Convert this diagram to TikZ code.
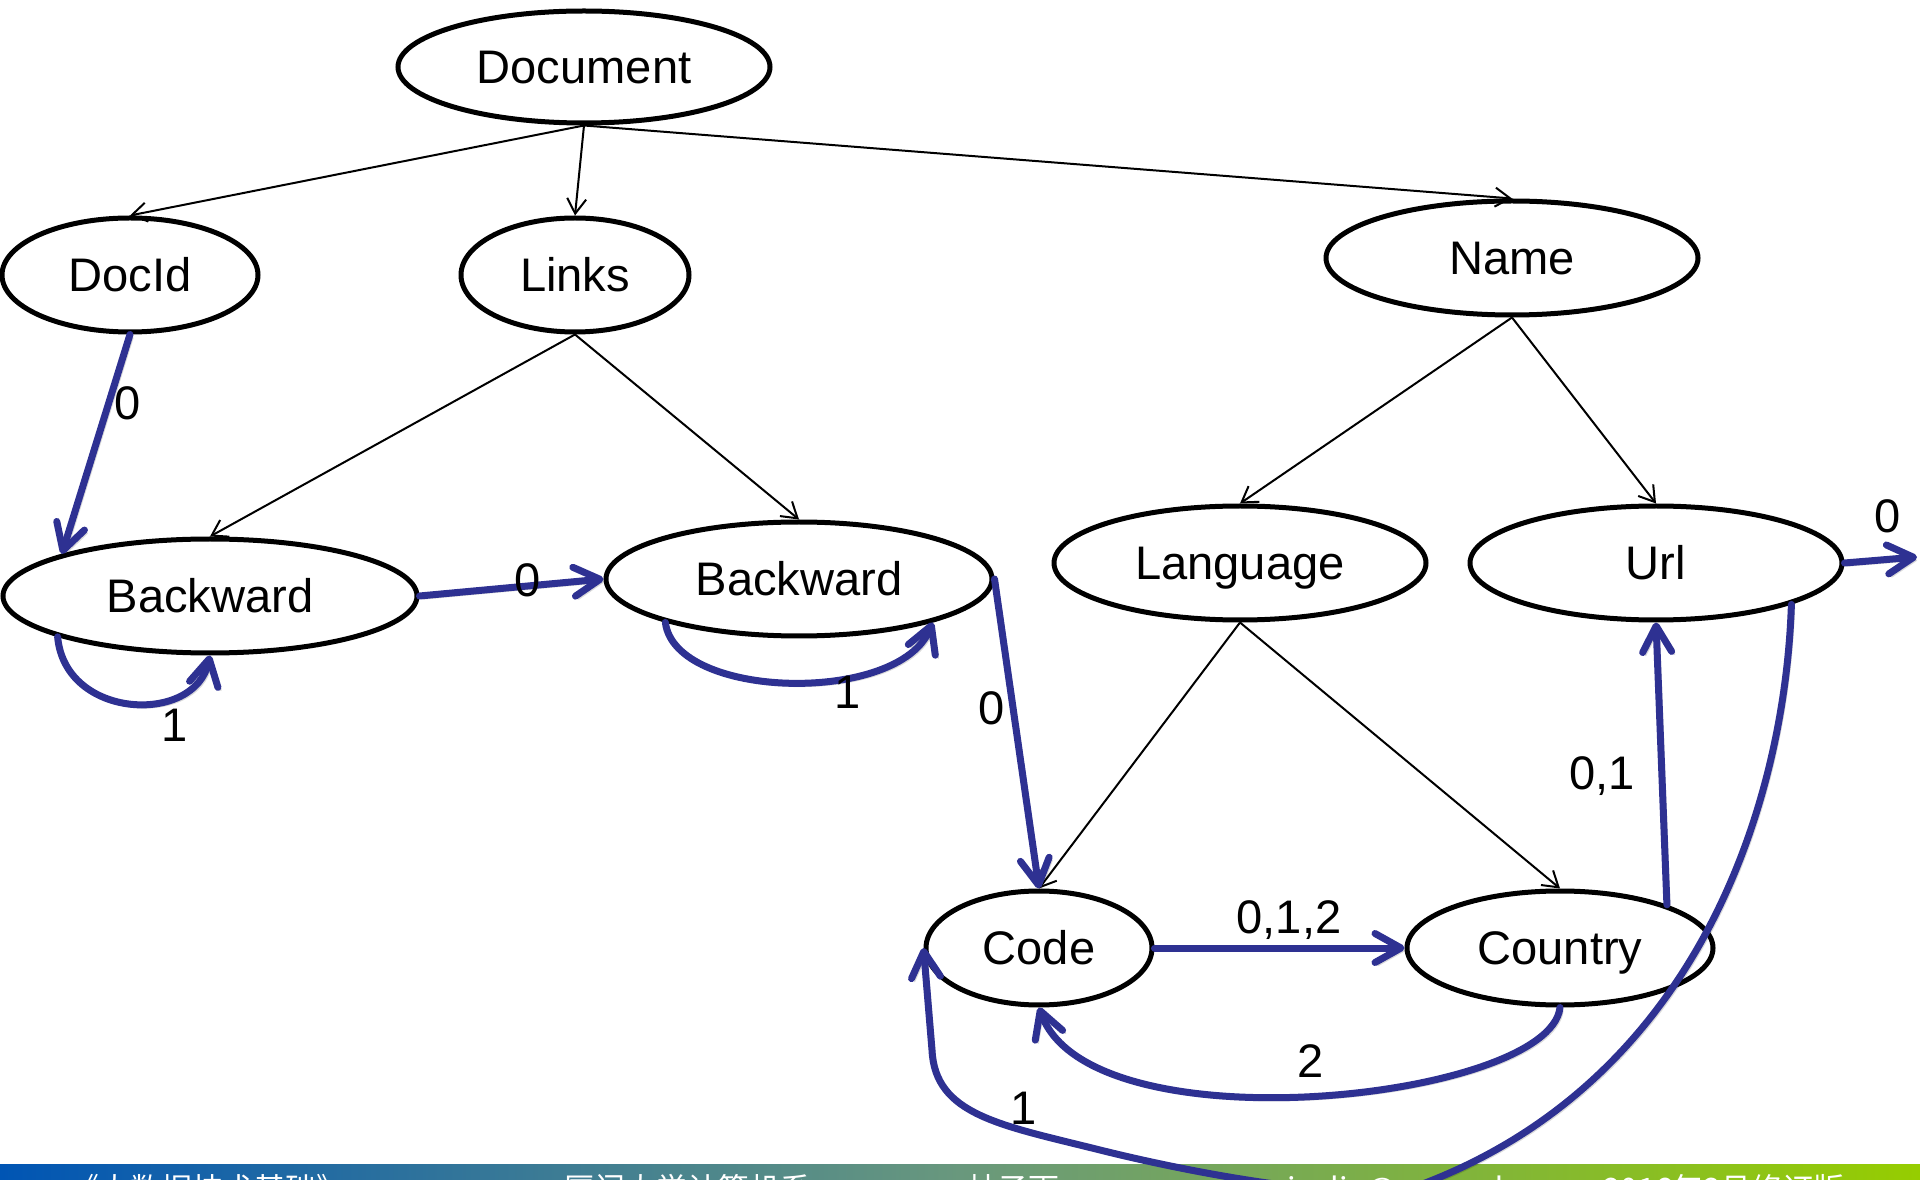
\documentclass[tikz,border=0pt]{standalone}
\usepackage{fontspec}
\setmainfont{Liberation Sans}
\newfontfamily\cjkfont{Noto Sans CJK SC}
\usetikzlibrary{shapes.geometric,arrows.meta}
\definecolor{edgeblue}{RGB}{46,49,146}
\definecolor{footA}{RGB}{0,85,180}
\definecolor{footB}{RGB}{105,152,125}
\definecolor{footC}{RGB}{150,205,0}
\begin{document}
\begin{tikzpicture}[x=0.1mm,y=-0.1mm,
  state/.style={ellipse, draw=black, line width=0.5mm, inner sep=0pt,
    text height=9.6pt, text depth=0pt, font=\fontsize{13.4pt}{16pt}\selectfont},
  tree/.style={draw=black, line width=0.2mm, -{Straight Barb[length=1.5mm,width=1.9mm]}},
  trans/.style={draw=edgeblue, line width=0.7mm, line cap=round, line join=round,
    -{Straight Barb[length=2.6mm,width=2.9mm,round]},
    preaction={draw=black, opacity=0.15, transform canvas={shift={(0.3mm,-0.3mm)}}}},
  lbl/.style={font=\fontsize{13.4pt}{16pt}\selectfont, inner sep=0pt, text height=9.6pt, text depth=0pt},
  foot/.style={text=white, font=\cjkfont\fontsize{8.8pt}{10pt}\selectfont, inner sep=0pt, anchor=base west}
]
\useasboundingbox (0,0) rectangle (1920,1180);
\clip (0,0) rectangle (1920,1180);

% footer bar
\shade[left color=footA, right color=footC, middle color=footB] (0,1164) rectangle (1920,1180);
\node[foot] (f1) at (68,1200) {《大数据技术基础》};
\node[foot] (f2) at (563,1200) {厦门大学计算机系};
\node[foot] (f3) at (966,1200) {林子雨};
\node[foot] (f4) at (1272,1200) {ziyulin@xmu.edu.cn};
\node[foot] (f5) at (1603,1200) {2016年3月修订版};

% nodes
\node[state, minimum width=37.2mm, minimum height=11.2mm] (doc) at (584,67) {Document};
\node[state, minimum width=25.6mm, minimum height=11.4mm] (docid) at (130,275) {DocId};
\node[state, minimum width=22.8mm, minimum height=11.4mm] (links) at (575,275) {Links};
\node[state, minimum width=37.2mm, minimum height=11.4mm] (name) at (1512,258) {Name};
\node[state, minimum width=41.4mm, minimum height=11.4mm] (bwa) at (210,596) {Backward};
\node[state, minimum width=38.6mm, minimum height=11.4mm] (bwb) at (799,579) {Backward};
\node[state, minimum width=37.2mm, minimum height=11.4mm] (lang) at (1240,563) {Language};
\node[state, minimum width=37.2mm, minimum height=11.4mm] (url) at (1656,563) {Url};
\node[state, minimum width=22.6mm, minimum height=11.4mm] (code) at (1039,948) {Code};
\node[state, minimum width=30.6mm, minimum height=11.4mm] (country) at (1560,948) {Country};

% tree edges
\draw[tree] (doc.south) -- (docid.north);
\draw[tree] (doc.south) -- (links.north);
\draw[tree] (doc.south) -- (name.north);
\draw[tree] (links.south) -- (bwa.north);
\draw[tree] (links.south) -- (bwb.north);
\draw[tree] (name.south) -- (lang.north);
\draw[tree] (name.south) -- (url.north);
\draw[tree] (lang.south) -- (code.north);
\draw[tree] (lang.south) -- (country.north);

% transitions
\coordinate (urlout) at (1917,557);
\draw[trans] (docid.south) -- (bwa.north west);
\draw[trans] (bwa.east) -- (bwb.west);
\draw[trans] (bwa.195) .. controls (65,720) and (195,725) .. (bwa.south);
\draw[trans] (bwb.198) .. controls (675,700) and (900,705) .. (bwb.342);
\draw[trans] (bwb.east) -- (code.north);
\draw[trans] (code.east) -- (country.west);
\draw[trans] (country.south) .. controls (1550,1100) and (1090,1150) .. (code.south);
\draw[trans] (country.22) -- (url.south);
\draw[trans] (url.343) .. controls (1785,800) and (1700,1080) .. (1420,1185)
   .. controls (1366,1205) and (1200,1175) .. (1100,1150)
   .. controls (1000,1125) and (935,1115) .. (932,1050) -- (code.west);
\draw[trans] (url.east) -- (urlout);

% labels
\node[lbl] (l1) at (128,403) {0};
\node[lbl] (l2) at (528,580) {0};
\node[lbl] (l3) at (175,725) {1};
\node[lbl] (l4) at (848,692) {1};
\node[lbl] (l5) at (992,708) {0};
\node[lbl] (l6) at (1289,917) {0,1,2};
\node[lbl] (l7) at (1311,1061) {2};
\node[lbl] (l8) at (1602,773) {0,1};
\node[lbl] (l9) at (1024,1108) {1};
\node[lbl] (l10) at (1888,516) {0};
\end{tikzpicture}
\end{document}
